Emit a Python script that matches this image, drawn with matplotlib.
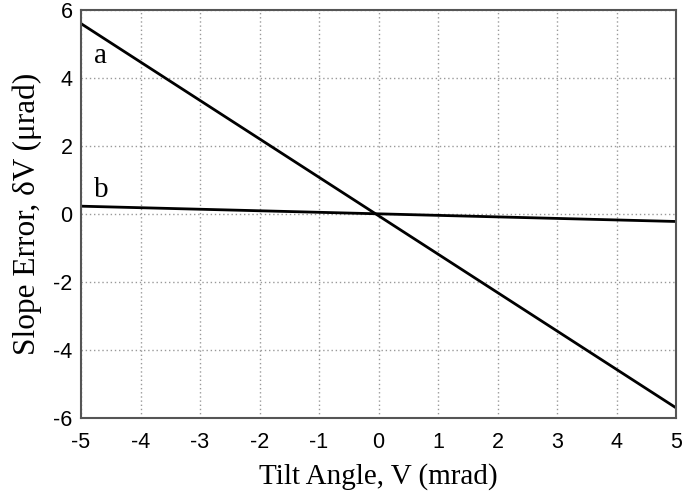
import matplotlib
matplotlib.use("Agg")
import matplotlib.pyplot as plt

plt.rcParams['axes.unicode_minus'] = False

tilt = [-5, 5]
err_a = [5.6, -5.7]
err_b = [0.23, -0.22]
xticks = [-5, -4, -3, -2, -1, 0, 1, 2, 3, 4, 5]
yticks = [-6, -4, -2, 0, 2, 4, 6]

fig = plt.figure(figsize=(6.85, 5.01), dpi=100)
ax = fig.add_axes([81/685, 1-418/501, (676-81)/685, (418-10)/501])
ax.plot(tilt, err_a, color='black', lw=2)
ax.plot(tilt, err_b, color='black', lw=2)
ax.set_xlim(-5, 5)
ax.set_ylim(-6, 6)
ax.set_xticks(xticks)
ax.set_yticks(yticks)
ax.grid(True, linestyle=(0, (1, 2)), color='#999999', lw=1)
for s in ax.spines.values():
    s.set_color('#555555')
    s.set_linewidth(1.5)
ax.tick_params(length=0, labelsize=15.5)
ax.tick_params(axis='x', pad=10)
ax.tick_params(axis='y', pad=6)
for lab in ax.get_xticklabels() + ax.get_yticklabels():
    lab.set_family('Liberation Sans')
ax.set_xlabel('Tilt Angle, V (mrad)', family='Liberation Serif', fontsize=21, labelpad=7)
ax.set_ylabel('Slope Error, δV (μrad)', family='Liberation Serif', fontsize=22.5, labelpad=8)
ax.text(-4.78, 4.44, 'a', family='Liberation Serif', fontsize=21, va='baseline')
ax.text(-4.78, 0.5, 'b', family='Liberation Serif', fontsize=21, va='baseline')
fig.savefig('out.png', dpi=100)
